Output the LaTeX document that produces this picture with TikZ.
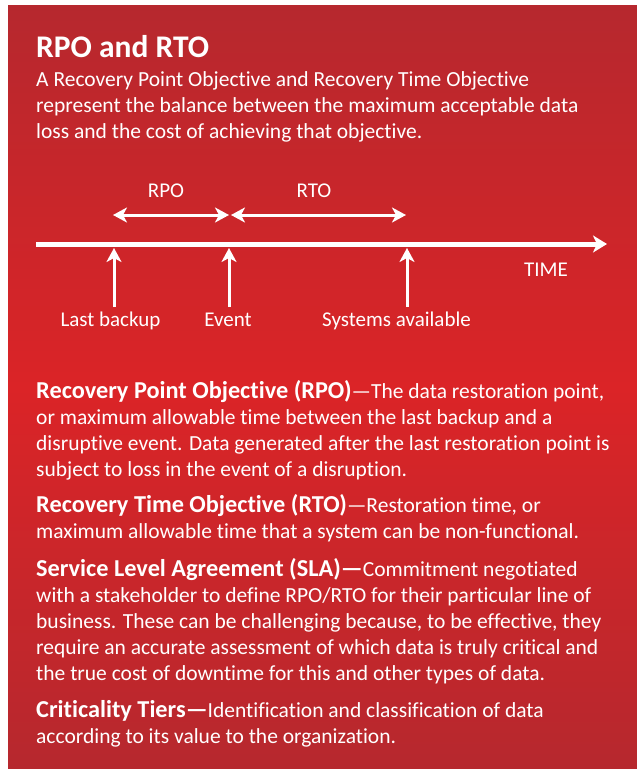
\documentclass[tikz,border=0pt]{standalone}
\usepackage{fontspec}
\setmainfont{Carlito}[Ligatures={TeX,NoCommon}]
\usetikzlibrary{arrows.meta}
\definecolor{boxdark}{RGB}{182,40,46}
\definecolor{boxred}{RGB}{219,36,39}
\newcommand{\deflead}[1]{{\fontsize{24.3}{26}\selectfont\bfseries #1}}

\begin{document}
\begin{tikzpicture}[x=1pt,y=-1pt,
    every node/.style={text=white,inner sep=0pt},
    para/.style={anchor=base west,align=left,font=\fontsize{21.5}{26}\selectfont},
    lbl/.style={anchor=base,font=\fontsize{21}{24}\selectfont},
    arr/.style={draw=white,line width=3pt,-{Stealth[length=14pt,width=15pt,inset=4pt]}},
    dbl/.style={draw=white,line width=3pt,{Stealth[length=14pt,width=15pt,inset=4pt]}-{Stealth[length=14pt,width=15pt,inset=4pt]}},
    ]
    \useasboundingbox (0,0) rectangle (637,769);
    \shade[shading angle=45,top color=boxdark,bottom color=boxdark,middle color=boxred] (8,5) rectangle (637,769);
    % heading
    \node[anchor=base west,font=\fontsize{31.5}{34}\selectfont\bfseries] (title) at (36,57) {RPO and RTO};
    \node[para] (intro) at (36,138) {A Recovery Point Objective and Recovery Time Objective\\
        represent the balance between the maximum acceptable data\\
        loss and the cost of achieving that objective.};
    % time line
    \coordinate (start) at (36,244);
    \coordinate (end) at (607,244);
    \draw[draw=white,line width=5pt,-{Stealth[length=14pt,width=17pt,inset=4pt]}] (start) -- (end);
    \node[lbl] (time) at (546,276) {TIME};
    \node[lbl] (backup) at (110.5,326) {Last backup};
    \node[lbl] (event) at (228,326) {Event};
    \node[lbl] (avail) at (396.5,326) {Systems available};
    \coordinate (b) at (114,248);
    \coordinate (e) at (229,248);
    \coordinate (s) at (407,248);
    \draw[arr] (b |- 0,307) -- (b);
    \draw[arr] (e |- 0,307) -- (e);
    \draw[arr] (s |- 0,307) -- (s);
    \coordinate (rpoL) at (113,215);
    \coordinate (mid) at (230,215);
    \coordinate (rtoR) at (406,215);
    \draw[dbl] (rpoL) -- ([xshift=-1pt]mid);
    \draw[dbl] ([xshift=1pt]mid) -- (rtoR);
    \node[lbl] (rpo) at (166,197) {RPO};
    \node[lbl] (rto) at (314,197) {RTO};
    % definitions
    \node[para] (defrpo) at (36,476) {\deflead{Recovery Point Objective (RPO)}—The data restoration point,\\
        or maximum allowable time between the last backup and a\\
        disruptive event. Data generated after the last restoration point is\\
        subject to loss in the event of a disruption.};
    \node[para] (defrto) at (36,538) {\deflead{Recovery Time Objective (RTO)}—Restoration time, or\\
        maximum allowable time that a system can be non-functional.};
    \node[para] (defsla) at (36,680) {\deflead{Service Level Agreement (SLA)—}Commitment negotiated\\
        with a stakeholder to define RPO/RTO for their particular line of\\
        business. These can be challenging because, to be effective, they\\
        require an accurate assessment of which data is truly critical and\\
        the true cost of downtime for this and other types of data.};
    \node[para] (deftier) at (36,743) {\deflead{Criticality Tiers—}Identification and classification of data\\
        according to its value to the organization.};
\end{tikzpicture}
\end{document}
